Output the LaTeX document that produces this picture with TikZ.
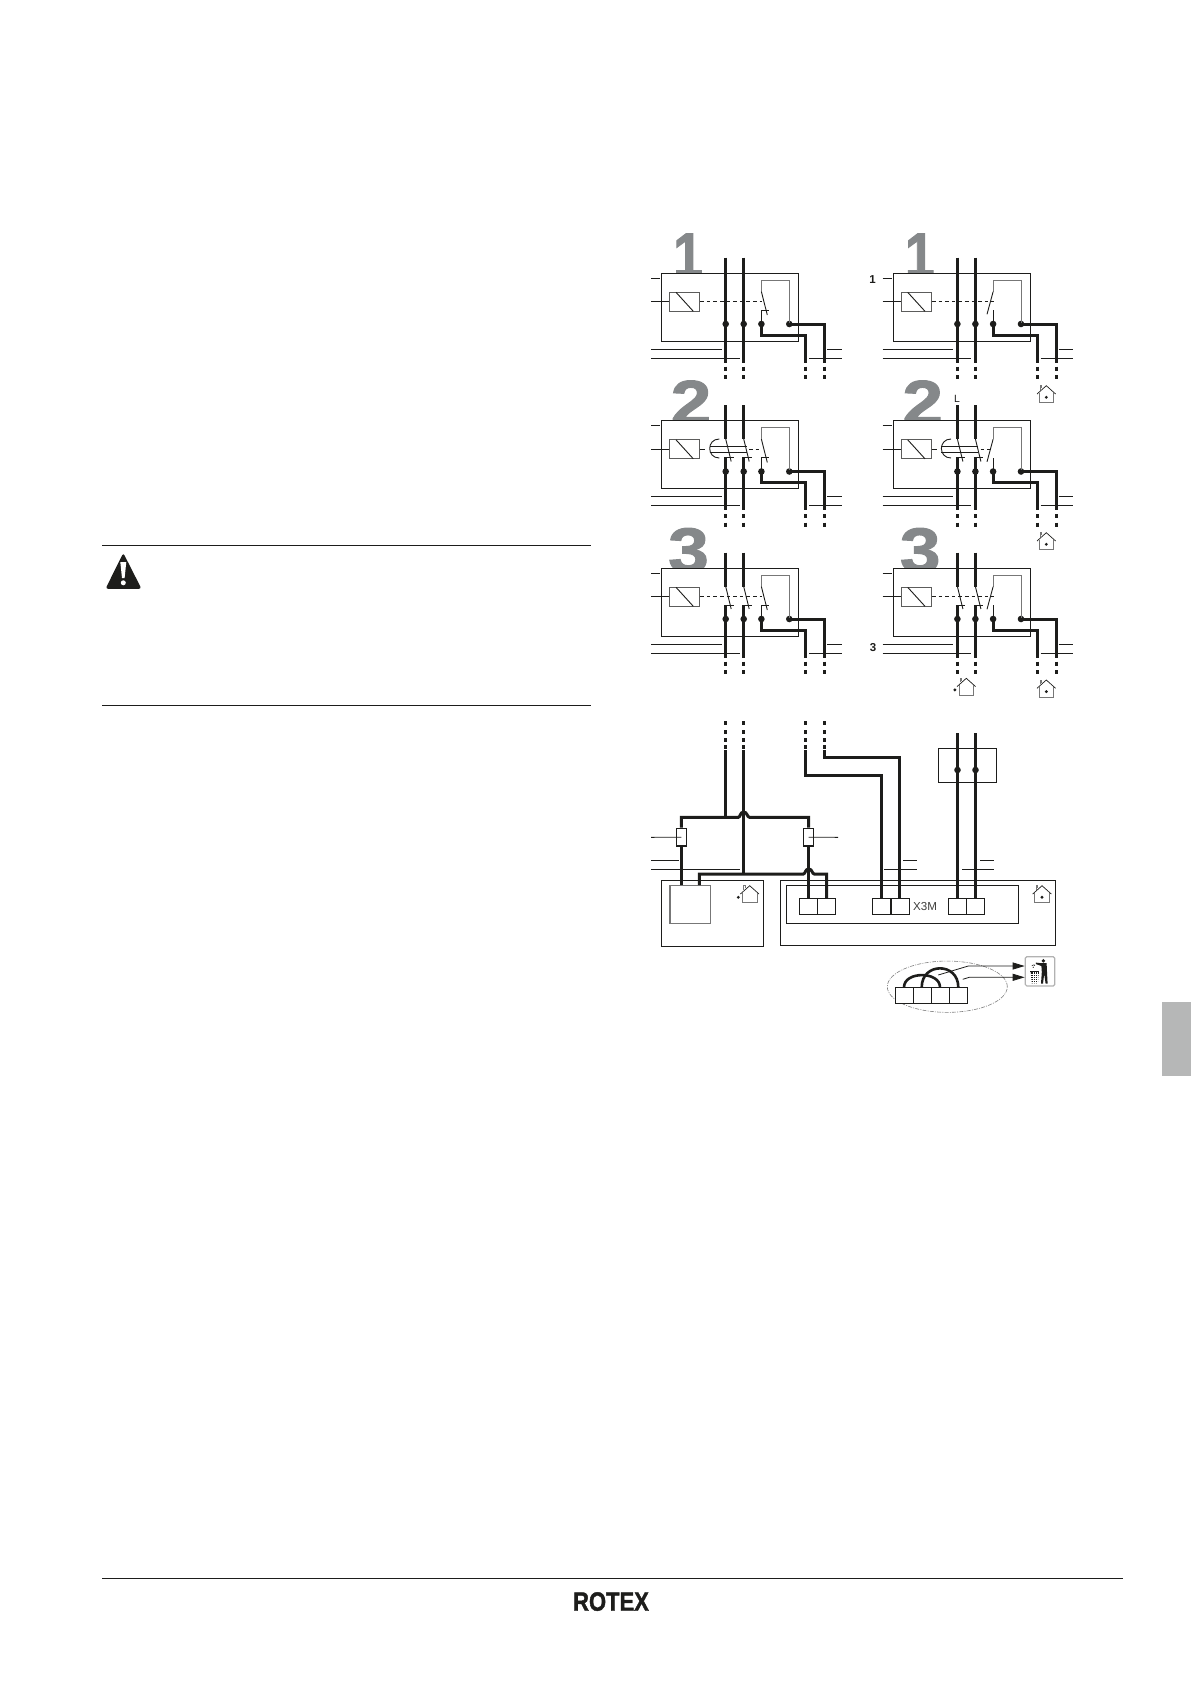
\documentclass[tikz,border=0pt]{standalone}
\usepackage{graphicx}
\usepackage{fontspec}
\setmainfont{Liberation Sans}
\newfontfamily\numfont[BoldFeatures={FakeBold=1.6}]{Liberation Sans}
\usetikzlibrary{arrows.meta,shapes.geometric}
\definecolor{ink}{HTML}{1D1D1B}
\definecolor{numgray}{HTML}{85888A}
\definecolor{loopgray}{HTML}{777777}
\definecolor{tabgray}{HTML}{B6B7B7}
\tikzset{
  thin line/.style={draw=ink,line width=0.9pt},
  wire/.style={draw=ink,line width=3pt,miter limit=10},
  wiredash/.style={draw=ink,line width=3pt},
  panel/.style={draw=ink,line width=0.9pt,fill=white,minimum width=137pt,minimum height=68pt,inner sep=0pt,rectangle},
  coil/.style={draw=loopgray!70!ink,line width=1.1pt,fill=white,minimum width=30pt,minimum height=19pt,inner sep=0pt},
  dot/.style={circle,fill=ink,minimum size=6.6pt,inner sep=0pt},
  numeral/.style={text=numgray,font=\numfont\bfseries\fontsize{63}{63}\selectfont,inner sep=0pt},
  linkdash/.style={draw=ink,line width=0.9pt,dash pattern=on 3.6pt off 3pt},
  termbox/.style={draw=ink,line width=0.9pt,fill=white,minimum width=18pt,minimum height=16pt,inner sep=0pt},
  fuse/.style={draw=ink,line width=1.3pt,fill=white,minimum width=10pt,minimum height=17.7pt,inner sep=0pt},
  frame/.style={draw=ink,line width=0.9pt,inner sep=0pt},
  lbl/.style={text=ink,inner sep=0pt},
  pointer/.style={draw=ink,line width=0.8pt,-{Triangle[length=12pt,width=7pt]}}
}
% #1 name, #2 dx, #3 dy, #4 numeral, #5 numeral x, #6 switch type (1,2,3), #7 third contact (0 closed, 1 open), #8 numeral x scale
\newcommand\relaybox[8]{%
\begin{scope}[shift={(#2,#3)}]
  \node[numeral,anchor=base] (#1num) at (#5,277) {\scalebox{#8}[1]{#4}};
  \node[panel] (#1box) at (729.8,307.3) {};
  \node[coil] (#1coil) at (684.7,301.8) {};
  \draw[thin line] (676,292.3) -- (693.3,311.3);
  \coordinate (#1tick) at (651,278.3);
  \draw[thin line] (#1tick) -- +(9,0);
  \coordinate (#1feed) at (651,301.8);
  \draw[thin line] (#1feed) -- (#1coil.west);
  \draw[thin line] (651,349.3) -- (721.7,349.3);
  \draw[thin line] (827,349.3) -- (841.5,349.3);
  \draw[thin line] (651,358.3) -- (739.7,358.3);
  \draw[thin line] (809,358.3) -- (841.5,358.3);
  \node[dot] (#1d1) at (725.7,324) {};
  \node[dot] (#1d2) at (743.7,324) {};
  \node[dot] (#1d3) at (761.4,324) {};
  \node[dot] (#1d4) at (789.3,324) {};
  \ifnum#6=1
    \draw[wire] (725.7,257.7) -- (#1d1.center) -- (725.7,362.7);
    \draw[wire] (743.7,257.7) -- (#1d2.center) -- (743.7,362.7);
    \draw[linkdash] (#1coil.east) -- (762,301.8);
  \else
    \draw[wire] (725.7,257.7) -- (725.7,291.5);
    \draw[wire] (743.7,257.7) -- (743.7,291.5);
    \draw[wire] (725.7,310) -- (#1d1.center) -- (725.7,362.7);
    \draw[wire] (743.7,310) -- (#1d2.center) -- (743.7,362.7);
    \draw[thin line] (725.7,291.5) -- (731.2,314);
    \draw[thin line] (743.7,291.5) -- (749.2,314);
    \draw[thin line] (724.2,310) -- (733.7,310);
    \draw[thin line] (742.2,310) -- (751.7,310);
    \ifnum#6=2
      \draw[thin line] (700,301.8) -- (705,301.8);
      \draw[thin line] (719.3,291.5) .. controls (706.5,291.5) and (706.5,310.5) .. (719.3,310.5);
      \draw[thin line] (709.7,298.5) -- (746.5,298.5);
      \draw[thin line] (709.7,304.5) -- (746.5,304.5);
      \draw[linkdash] (749,301.8) -- (762,301.8);
    \else
      \draw[linkdash] (#1coil.east) -- (762,301.8);
    \fi
  \fi
  \draw[draw=loopgray,line width=1pt] (761.4,291.7) -- (761.4,280) -- (789.3,280) -- (#1d4.center);
  \ifnum#7=0
    \draw[thin line] (761.4,291.7) -- (767.3,315);
    \draw[thin line] (#1d3.center) -- (761.4,310) -- (769.3,310);
  \else
    \draw[thin line] (761.4,291.7) -- (755.3,314.3);
    \draw[thin line] (#1d3.center) -- (761.4,310);
  \fi
  \draw[wire] (#1d3.center) -- (761.4,335.3) -- (805.7,335.3) -- (805.7,362.7);
  \draw[wire] (#1d4.center) -- (824.3,324) -- (824.3,362.7);
  \foreach \wx in {725.7,743.7,805.7,824.3} {
    \draw[wiredash] (\wx,366.7) -- (\wx,370.7);
    \draw[wiredash] (\wx,375) -- (\wx,379);
  }
\end{scope}}
% #1 name, #2 x, #3 peak y, #4 dot x offset
\newcommand\homemark[4]{%
  \coordinate (#1) at (#2,#3);
  \begin{scope}[shift={(#2,#3)}]
    \draw[draw=ink,line width=0.7pt] (-9.3,8.3) -- (0,0) -- (9.3,8.3);
    \draw[draw=loopgray,line width=0.8pt] (-7.4,7) -- (-7.4,17) -- (7.4,17) -- (7.4,7);
    \draw[draw=loopgray,line width=0.6pt] (-6.2,4) -- (-6.2,0) -- (-4.6,0) -- (-4.6,2.6);
    \fill[ink] (#4,11.6) circle (1.6pt);
  \end{scope}}
\begin{document}
\begin{tikzpicture}[x=1pt,y=-1pt]
\useasboundingbox (0,0) rectangle (1191,1684);
% page furniture
\coordinate (ruleAa) at (102,545.6); \coordinate (ruleAb) at (590.6,545.6);
\coordinate (ruleBa) at (102,705.6); \coordinate (ruleBb) at (590.6,705.6);
\coordinate (footA) at (102,1578.3); \coordinate (footB) at (1122.7,1578.3);
\draw[thin line] (ruleAa) -- (ruleAb);
\draw[thin line] (ruleBa) -- (ruleBb);
\draw[thin line] (footA) -- (footB);
\fill[ink,rounded corners=2.5pt] (123.3,553) -- (141.5,588.8) -- (105.5,588.8) -- cycle;
\fill[white] (120.3,562) -- (126.3,562) -- (124.6,578) -- (122,578) -- cycle;
\fill[white] (123.3,582.8) circle (2.5pt);
\node[lbl,anchor=base] (logo) at (611,1610.7) {\numfont\bfseries\fontsize{26.5}{26.5}\selectfont\scalebox{0.83}[1]{ROTEX}};
\fill[tabgray] (1162,1002) rectangle (1191,1076);
% relay panels
\relaybox{pa}{0}{0}{1}{688}{1}{0}{0.85}
\relaybox{pb}{231.7}{0}{1}{688}{1}{1}{0.85}
\relaybox{pc}{0}{147.5}{2}{691}{2}{0}{1.16}
\relaybox{pd}{231.7}{147.5}{2}{691}{2}{1}{1.16}
\relaybox{pe}{0}{295}{3}{688.5}{3}{0}{1.16}
\relaybox{pf}{231.7}{295}{3}{688.5}{3}{1}{1.16}
\node[lbl,font=\bfseries\fontsize{11.5}{11.5}\selectfont] (n1) at (872.5,279.5) {1};
\node[lbl,font=\bfseries\fontsize{11.5}{11.5}\selectfont] (n3) at (873,648) {3};
\node[lbl,font=\fontsize{10.5}{10.5}\selectfont] (nL) at (957,399) {L};
\homemark{ha}{1046.3}{385.7}{0}
\homemark{hb}{1046.3}{532.7}{0}
\homemark{hc}{1046.3}{680}{0}
\homemark{hd}{966.3}{678.3}{-11.4}
% lower section: boxes
\node[frame,minimum width=101.6pt,minimum height=66pt] (lout) at (712.5,913) {};
\node[frame,draw=loopgray,line width=1.1pt,minimum width=40.7pt,minimum height=38pt] (lin) at (690.3,904.7) {};
\node[frame,minimum width=275.4pt,minimum height=65pt] (rout) at (918,912.8) {};
\node[frame,minimum width=232pt,minimum height=37.6pt] (rin) at (902.3,904.5) {};
\homemark{he}{749.7}{885.7}{-11.4}
\homemark{hf}{1042}{885.7}{0}
\node[termbox] (t1a) at (808.3,906.3) {};
\node[termbox] (t1b) at (826.3,906.3) {};
\node[termbox] (t2a) at (881.7,906.3) {};
\node[termbox] (t2b) at (900.2,906.3) {};
\node[termbox] (t3a) at (957.7,906.3) {};
\node[termbox] (t3b) at (975.7,906.3) {};
\node[lbl,anchor=west,font=\fontsize{11.6}{11.6}\selectfont,text=ink!85] (x3m) at (913,906) {X3M};
% fuses
\node[fuse] (fl) at (681.3,837.2) {};
\node[fuse] (fr) at (808.7,837.2) {};
% coordinates of free ends
\coordinate (sA) at (725.7,750); \coordinate (sB) at (743.7,750);
\coordinate (sC) at (805.7,750); \coordinate (sD) at (824.7,750);
% wires
\draw[wire] (sA) -- (725.7,817.3);
\draw[wire] (sB) -- (743.7,873.3);
\draw[wire] (fl.north) -- (681.3,817.3) -- (738.3,817.3) .. controls (740.5,817.3) and (740,812) .. (743.7,812) .. controls (747.4,812) and (747,817.3) .. (749.5,817.3) -- (808.7,817.3) -- (fr.north);
\draw[wire] (fl.south) -- (lin.north -| fl.south);
\draw[wire] (fr.south) -- (t1a.north -| fr.south);
\draw[wire] (699.3,885) -- (699.3,874) -- (803.3,874) .. controls (805.5,874) and (805,869) .. (808.7,869) .. controls (812.4,869) and (812,874) .. (814.3,874) -- (826.5,874) -- (t1b.north -| 826.5,874);
\draw[wire] (sC) -- (805.7,775.3) -- (881.5,775.3) -- (t2a.north -| 881.5,775.3);
\draw[wire] (sD) -- (824.7,757.3) -- (899.5,757.3) -- (t2b.north -| 899.5,757.3);
\node[frame,minimum width=58.4pt,minimum height=34pt] (sw) at (967.5,765.3) {};
\node[dot] (swa) at (957.5,770) {};
\node[dot] (swb) at (975.5,770) {};
\coordinate (sE) at (957.5,733.3); \coordinate (sF) at (975.5,733.3);
\draw[wire] (sE) -- (swa.center) -- (t3a.north -| swa.center);
\draw[wire] (sF) -- (swb.center) -- (t3b.north -| swb.center);
\foreach \wx in {725.7,743.7,805.7,824.7} {
  \draw[wiredash] (\wx,721) -- (\wx,725);
  \draw[wiredash] (\wx,730) -- (\wx,733.5);
  \draw[wiredash] (\wx,738) -- (\wx,741.7);
  \draw[wiredash] (\wx,745) -- (\wx,749);
}
% thin feeder lines
\coordinate (la) at (651,837.3); \coordinate (lb) at (838,837.3);
\draw[thin line] (la) -- (fl.center);
\draw[thin line] (fr.center) -- (lb);
\draw[thin line] (651,860.3) -- (679,860.3);
\draw[thin line] (651,869.3) -- (740,869.3);
\draw[thin line] (903.3,860.3) -- (916.7,860.3);
\draw[thin line] (884.3,869.3) -- (916.7,869.3);
\draw[thin line] (980,860.3) -- (994,860.3);
\draw[thin line] (962.3,869.3) -- (994,869.3);
% removed link
\node[ellipse,draw=gray,line width=0.6pt,dash pattern=on 4pt off 1.2pt on 1pt off 1.2pt,minimum width=120pt,minimum height=51.3pt,inner sep=0pt] (oval) at (947.3,986.7) {};
\node[termbox] (ra) at (904.7,995.3) {};
\node[termbox] (rb) at (922.7,995.3) {};
\node[termbox] (rc) at (940.7,995.3) {};
\node[termbox] (rd) at (958.5,995.3) {};
\draw[draw=ink,line width=2.6pt] (904,987.3) .. controls (904,971) and (940,971) .. (940,987.3);
\draw[draw=ink,line width=2.6pt] (921.7,987.3) .. controls (921.7,962) and (958.3,962) .. (958.3,987.3);
% bin symbol
\node[rectangle,rounded corners=1.5pt,draw=gray!60,line width=1.2pt,fill=white,minimum width=29.4pt,minimum height=29.3pt,inner sep=0pt] (bin) at (1040,971.3) {};
\coordinate (ptA) at (938.3,975); \coordinate (ptB) at (962.7,979.3);
\draw[pointer] (ptA) -- (968.3,966) -- (bin.west |- 968.3,966);
\draw[pointer] (ptB) -- (969.3,977.3) -- (bin.west |- 969.3,977.3);
\fill[ink] (1030.2,970.8) rectangle (1039.4,972);
\fill[ink] (1030.7,972) -- (1038.9,972) -- (1037.9,983.4) -- (1031.7,983.4) -- cycle;
\foreach \hy in {974,976,978,980,982} \draw[white,line width=0.5pt] (1030,\hy) -- (1040,\hy);
\foreach \hx in {1033,1035,1037} \draw[white,line width=0.4pt] (\hx,972) -- (\hx,984);
\fill[ink] (1043.4,960.8) circle (1.9pt);
\fill[ink] (1041.2,963.2) -- (1046.6,963) -- (1047,972) -- (1047.6,983.6) -- (1045.6,983.6) -- (1044.2,974) -- (1043,983.6) -- (1041,983.6) -- (1041.8,972) -- (1041.4,966) -- (1035.8,964) -- (1036,962.6) -- cycle;
\fill[ink] (1034.6,965.2) circle (0.6pt);
\fill[ink] (1033.2,967.2) circle (0.6pt);
\draw[ink,line width=0.5pt] (1031.8,965.8) .. controls (1032.6,964.6) and (1034,964.6) .. (1034.6,965.4);
\end{tikzpicture}
\end{document}
